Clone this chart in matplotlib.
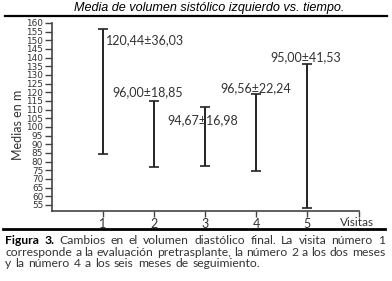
import matplotlib
matplotlib.use('Agg')
import matplotlib.pyplot as plt
from matplotlib.lines import Line2D

# ---------------- data ----------------
visits = [1, 2, 3, 4, 5]
means = [120.44, 96.00, 94.67, 96.56, 95.00]
sds = [36.03, 18.85, 16.98, 22.24, 41.53]
value_labels = ['120,44±36,03', '96,00±18,85', '94,67±16,98', '96,56±22,24', '95,00±41,53']
yticks = list(range(55, 161, 5))
xticks = [1, 2, 3, 4, 5, 6]
xticklabels = ['1', '2', '3', '4', '5', '']
title = 'Media de volumen sistólico izquierdo vs. tiempo.'
ylabel = 'Medias en m'
xlabel = 'Visitas'
caption = [
    'Figura 3. Cambios en el volumen diastólico final. La visita número 1',
    'corresponde a la evaluación pretrasplante, la número 2 a los dos meses',
    'y la número 4 a los seis meses de seguimiento.',
]

# ---------------- layout ----------------
W, H = 392, 281
FONT = 'Lato'
fig = plt.figure(figsize=(W / 100, H / 100), dpi=100)
fig.patch.set_facecolor('white')

ax_l, ax_r, ax_t, ax_b = 51.5, 358.5, 23, 211
ax = fig.add_axes([ax_l / W, 1 - ax_b / H, (ax_r - ax_l) / W, (ax_b - ax_t) / H])

ax.errorbar(visits, means, yerr=sds, fmt='none', ecolor='#222222',
            elinewidth=1.4, capsize=3.6, capthick=1.2)
ax.set_xlim(0, 6)
ax.set_ylim(51.5, 160)

for s in ['top', 'right']:
    ax.spines[s].set_visible(False)
for s in ['left', 'bottom']:
    ax.spines[s].set_color('#444444')
    ax.spines[s].set_linewidth(1.2)

ax.set_yticks(yticks)
ax.set_yticklabels([str(v) for v in yticks], fontsize=6.4, family='DejaVu Sans', color='#333333')
ax.set_xticks(xticks)
ax.set_xticklabels(xticklabels, fontsize=9, family=FONT, color='#333333')
ax.tick_params(axis='y', direction='out', length=5, width=1, color='#444444', pad=1)
ax.tick_params(axis='x', direction='out', length=4.3, width=1, color='#444444', pad=0.5)

# value labels (positions: data-x, data-y, alignment)
label_pos = [(1.065, 150.2, 'left'), (1.886, 120.2, 'center'), (2.96, 104.0, 'center'),
             (3.99, 122.5, 'center'), (4.97, 140.4, 'center')]
for txt, (lx, ly, ha) in zip(value_labels, label_pos):
    ax.text(lx, ly, txt, ha=ha, va='center', fontsize=9, family=FONT, color='#333333')

fig.text(18 / W, 1 - 125 / H, ylabel, rotation=90, ha='center', va='center',
         fontsize=9, family=FONT, color='#333333')
fig.text(357 / W, 1 - 222 / H, xlabel, ha='center', va='center',
         fontsize=8.5, family=FONT, color='#333333')

# title and rules
fig.text(209 / W, 1 - 8 / H, title, ha='center', va='center', style='italic',
         family='Liberation Sans', fontsize=9.1, color='black')
fig.add_artist(Line2D([5 / W, 387 / W], [1 - 16 / H] * 2, lw=1.6, color='black'))
fig.add_artist(Line2D([3 / W, 385 / W], [1 - 229 / H] * 2, lw=2.0, color='black'))

# caption, justified
renderer = fig.canvas.get_renderer()
cap_fs = 8.7
cap_y = [240, 252, 263.5]
x0, x1 = 5, 385
for i, line in enumerate(caption):
    words = line.split(' ')
    styles = []
    for j, w in enumerate(words):
        if i == 0 and j < 2:
            styles.append(dict(color='black', weight='bold'))
        else:
            styles.append(dict(color='#333333', weight='normal'))
    widths = []
    for w, st in zip(words, styles):
        t = fig.text(0, 0, w, fontsize=cap_fs, family=FONT, **st)
        bb = t.get_window_extent(renderer)
        widths.append(bb.width)
        t.remove()
    sp_t = fig.text(0, 0, 'a a', fontsize=cap_fs, family=FONT)
    sp_a = fig.text(0, 0, 'aa', fontsize=cap_fs, family=FONT)
    space = sp_t.get_window_extent(renderer).width - sp_a.get_window_extent(renderer).width
    sp_t.remove(); sp_a.remove()
    if i < len(caption) - 1:
        gap = (x1 - x0 - sum(widths)) / (len(words) - 1)
    else:
        gap = space * 1.3
    x = x0
    for w, st, wd in zip(words, styles, widths):
        fig.text(x / W, 1 - cap_y[i] / H, w, ha='left', va='center', fontsize=cap_fs,
                 family=FONT, **st)
        x += wd + gap

fig.savefig('out.png', dpi=100)
